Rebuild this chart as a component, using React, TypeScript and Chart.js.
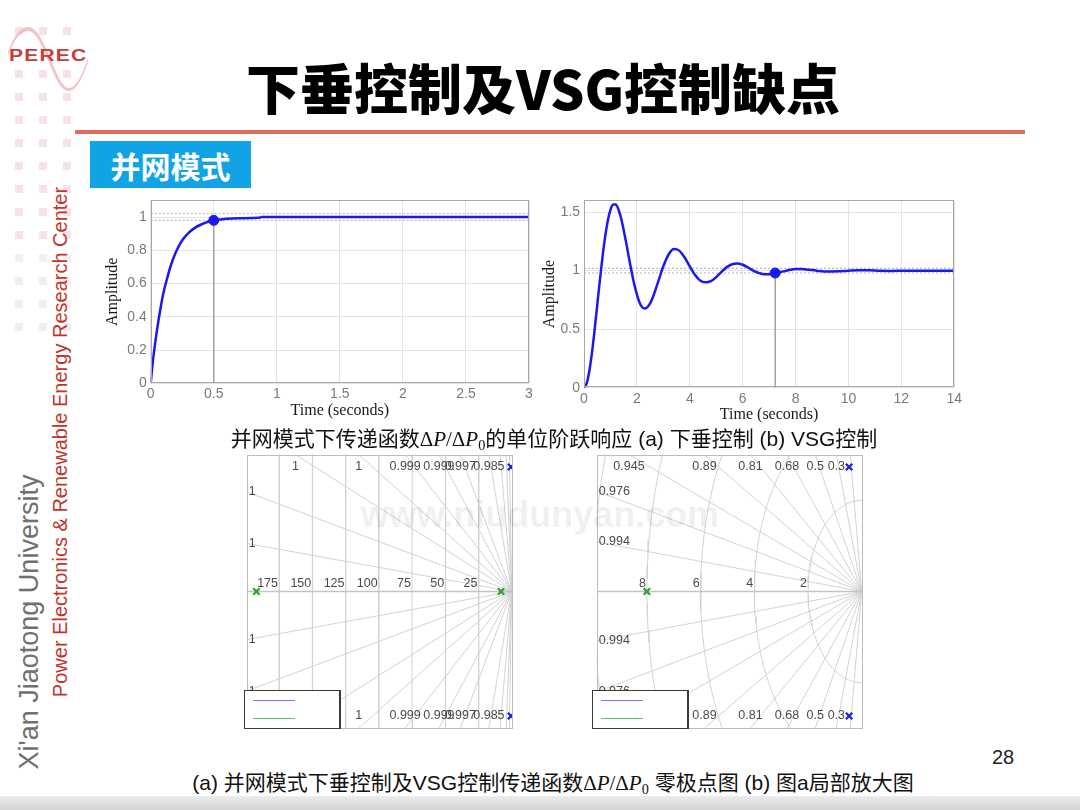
import React, { useEffect, useRef } from 'react';
import { Chart, registerables } from 'chart.js';
Chart.register(...registerables);

// ---------------- Data ----------------
// (a) droop control: unit step response of dP/dP0
const droopTime = [0, 0.02, 0.05, 0.08, 0.1, 0.13, 0.16, 0.2, 0.25, 0.3, 0.35, 0.4, 0.45, 0.5, 0.55, 0.6, 0.7, 0.86, 0.88, 1.0, 1.5, 2.0, 2.5, 3.0];
const droopAmp = [0, 0.15, 0.32, 0.46, 0.54, 0.63, 0.71, 0.79, 0.86, 0.905, 0.935, 0.955, 0.97, 0.98, 0.985, 0.99, 0.993, 0.995, 1.0, 1.0, 1.0, 1.0, 1.0, 1.0];
const droopSettleTime = 0.5;
const droopSettleAmp = 0.98;

// (b) VSG control: unit step response of dP/dP0
const vsgTime = [0, 0.1, 0.2, 0.3, 0.4, 0.5, 0.6, 0.7, 0.8, 0.9, 1.0, 1.1, 1.2, 1.3, 1.4, 1.5, 1.6, 1.7, 1.8, 1.9, 2.0, 2.1, 2.2, 2.3, 2.4, 2.5, 2.6, 2.8, 3.0, 3.2, 3.4, 3.6, 3.8, 4.0, 4.2, 4.4, 4.6, 4.8, 5.0, 5.2, 5.4, 5.6, 5.8, 6.0, 6.2, 6.4, 6.6, 6.8, 7.0, 7.2, 7.4, 7.6, 7.8, 8.0, 8.2, 8.4, 8.8, 9.2, 9.6, 10.0, 10.4, 10.8, 11.2, 11.6, 12.0, 12.5, 13.0, 14.0];
const vsgAmp = [0, 0.037, 0.14, 0.297, 0.491, 0.703, 0.917, 1.117, 1.291, 1.427, 1.519, 1.565, 1.566, 1.525, 1.45, 1.348, 1.233, 1.109, 0.99, 0.883, 0.797, 0.727, 0.687, 0.676, 0.688, 0.72, 0.77, 0.902, 1.037, 1.138, 1.184, 1.171, 1.114, 1.036, 0.962, 0.913, 0.9, 0.91, 0.945, 0.99, 1.03, 1.055, 1.062, 1.05, 1.027, 1.001, 0.981, 0.97, 0.969, 0.978, 0.986, 0.996, 1.008, 1.014, 1.014, 1.01, 1.0, 0.992, 0.994, 1.0, 1.004, 1.003, 0.998, 0.997, 0.999, 1.0, 1.0, 1.0];
const vsgSettleTime = 7.23;
const vsgSettleAmp = 0.98;

const settleBand = [0.98, 1.02];

// Pole-zero maps
const vsgPoleRe = [-0.47, -0.47];
const vsgPoleIm = [2.73, -2.73];
const droopPoleRe = [-192, -8];
const droopPoleIm = [0, 0];

const mapAFreqs = [25, 50, 75, 100, 125, 150, 175];
const mapAFreqText = ['25', '50', '75', '100', '125', '150', '175'];
const mapADamping = [0.999986, 0.99994, 0.99983, 0.99966, 0.9993, 0.9985, 0.997, 0.985, 0.945, 0.81, 0.5];
const mapADampText = ['1', '1', '1', '1', '0.999', '0.999', '0.997', '0.985', '', '', ''];

const mapBFreqs = [2, 4, 6, 8, 10];
const mapBFreqText = ['2', '4', '6', '8', '10'];
const mapBDamping = [0.14, 0.3, 0.5, 0.68, 0.81, 0.89, 0.945, 0.976, 0.994];
const mapBDampText = ['', '0.3', '0.5', '0.68', '0.81', '0.89', '0.945', '0.976', '0.994'];

// ---------------- Styles ----------------
const SANS = '"Liberation Sans", Arial, "Noto Sans CJK SC", sans-serif';
const SERIF = '"Liberation Serif", "Times New Roman", serif';
const CJK = '"Noto Sans CJK SC", "Liberation Sans", sans-serif';
const BLUE = '#1a1aee';
const GREEN = '#2aa42a';

type Pt = { x: number; y: number };
const zip = (xs: number[], ys: number[]): Pt[] => xs.map((x, i) => ({ x, y: ys[i] }));
const fmtTick = (v: any) => String(Math.round(Number(v) * 100) / 100);

const framePlugin = (color: string) => ({
  id: 'frame',
  afterDatasetsDraw(chart: any) {
    const { ctx, chartArea } = chart;
    const { left, top, right, bottom } = chartArea;
    ctx.save();
    ctx.strokeStyle = color;
    ctx.lineWidth = 1;
    ctx.strokeRect(Math.round(left) + 0.5, Math.round(top) + 0.5, Math.round(right - left) - 1, Math.round(bottom - top) - 1);
    ctx.restore();
  },
});

type StepProps = {
  left: number; top: number; width: number; height: number;
  time: number[]; amp: number[]; settleT: number; settleA: number;
  xMax: number; xStep: number; yMax: number; yStep: number;
  yAxisW: number; xAxisH: number; padTop: number; padRight: number;
  yTitlePad: number; xTitlePad: number; xTickPad: number;
};

function StepChart(p: StepProps) {
  const ref = useRef<HTMLCanvasElement>(null);
  useEffect(() => {
    const chart = new Chart(ref.current as HTMLCanvasElement, {
      type: 'scatter',
      data: {
        datasets: [
          { data: [{ x: p.settleT, y: p.settleA }], pointRadius: 5, pointBackgroundColor: BLUE, pointBorderColor: BLUE, showLine: false } as any,
          { data: zip(p.time, p.amp), showLine: true, borderColor: BLUE, borderWidth: 2.5, pointRadius: 0, cubicInterpolationMode: 'monotone' },
          { data: [{ x: 0, y: settleBand[1] }, { x: p.xMax, y: settleBand[1] }], showLine: true, borderColor: '#b0b0b0', borderWidth: 1, borderDash: [2, 2], pointRadius: 0 },
          { data: [{ x: 0, y: settleBand[0] }, { x: p.xMax, y: settleBand[0] }], showLine: true, borderColor: '#b0b0b0', borderWidth: 1, borderDash: [2, 2], pointRadius: 0 },
          { data: [{ x: p.settleT, y: 0 }, { x: p.settleT, y: p.settleA }], showLine: true, borderColor: '#a0a0a0', borderWidth: 1.5, pointRadius: 0 },
        ],
      },
      options: {
        animation: false,
        responsive: false,
        events: [],
        layout: { padding: { top: p.padTop, right: p.padRight, left: 0, bottom: 0 } },
        plugins: { legend: { display: false }, tooltip: { enabled: false } },
        scales: {
          x: {
            type: 'linear', min: 0, max: p.xMax,
            ticks: { stepSize: p.xStep, includeBounds: false, color: '#7a7a7a', font: { family: SANS, size: 14 }, padding: p.xTickPad, maxRotation: 0, callback: fmtTick },
            grid: { color: '#e4e4e4', drawTicks: false },
            border: { display: false },
            title: { display: true, text: 'Time (seconds)', color: '#1a1a1a', font: { family: SERIF, size: 16, lineHeight: 1.2 }, padding: { top: 0, bottom: p.xTitlePad } },
            afterFit: (s: any) => { s.height = p.xAxisH; },
          },
          y: {
            type: 'linear', min: 0, max: p.yMax,
            ticks: { stepSize: p.yStep, includeBounds: false, color: '#7a7a7a', font: { family: SANS, size: 14 }, padding: 4, callback: fmtTick },
            grid: { color: '#e4e4e4', drawTicks: false },
            border: { display: false },
            title: { display: true, text: 'Amplitude', color: '#1a1a1a', font: { family: SERIF, size: 16, lineHeight: 1.2 }, padding: { top: p.yTitlePad, bottom: 0 } },
            afterFit: (s: any) => { s.width = p.yAxisW; },
          },
        },
      } as any,
      plugins: [framePlugin('#a8a8a8')],
    });
    return () => chart.destroy();
  }, []);
  return (
    <canvas ref={ref} width={p.width} height={p.height}
      style={{ position: 'absolute', left: p.left, top: p.top, width: p.width, height: p.height }} />
  );
}

type PzProps = {
  left: number; top: number; width: number; height: number;
  pad: { left: number; top: number; right: number; bottom: number };
  xMin: number; xMax: number; yMax: number;
  freqs: number[]; freqText: string[]; damping: number[]; dampText: string[];
};

function PzMap(p: PzProps) {
  const ref = useRef<HTMLCanvasElement>(null);
  useEffect(() => {
    const gridColor = '#d2d2d2';
    const circles = p.freqs.map((r) => {
      const pts: Pt[] = [];
      for (let a = 90; a <= 270; a += 2) {
        const t = (a * Math.PI) / 180;
        pts.push({ x: r * Math.cos(t), y: r * Math.sin(t) });
      }
      return { data: pts, showLine: true, borderColor: gridColor, borderWidth: 1, pointRadius: 0 };
    });
    const rays: any[] = [];
    p.damping.forEach((z) => {
      const s = Math.sqrt(1 - z * z);
      const len = Math.min(-p.xMin / z, p.yMax / s);
      [1, -1].forEach((sg) => {
        rays.push({ data: [{ x: 0, y: 0 }, { x: -z * len, y: sg * s * len }], showLine: true, borderColor: gridColor, borderWidth: 1, pointRadius: 0 });
      });
    });
    const labelPlugin = {
      id: 'pzLabels',
      afterDatasetsDraw(chart: any) {
        const { ctx, chartArea, scales } = chart;
        const xs = scales.x, ys = scales.y;
        ctx.save();
        ctx.fillStyle = '#4a4a4a';
        ctx.font = `12.5px ${SANS}`;
        ctx.textAlign = 'right';
        ctx.textBaseline = 'bottom';
        p.freqs.forEach((r, i) => {
          if (-r < p.xMin) return;
          ctx.fillText(p.freqText[i], xs.getPixelForValue(-r) - 1, ys.getPixelForValue(0) - 2);
        });
        ctx.textBaseline = 'middle';
        p.damping.forEach((z, i) => {
          const txt = p.dampText[i];
          if (!txt) return;
          const s = Math.sqrt(1 - z * z);
          const xTop = (-p.yMax * z) / s;
          if (xTop >= p.xMin) {
            ctx.textAlign = 'center';
            const px = xs.getPixelForValue(xTop);
            ctx.fillText(txt, px, chartArea.top + 12);
            ctx.fillText(txt, px, chartArea.bottom - 13);
          } else {
            const yEdge = (-p.xMin * s) / z;
            ctx.textAlign = 'left';
            ctx.fillText(txt, chartArea.left + 2, ys.getPixelForValue(yEdge));
            ctx.fillText(txt, chartArea.left + 2, ys.getPixelForValue(-yEdge));
          }
        });
        ctx.restore();
      },
    };
    const chart = new Chart(ref.current as HTMLCanvasElement, {
      type: 'scatter',
      data: {
        datasets: [
          { data: zip(vsgPoleRe, vsgPoleIm), pointStyle: 'crossRot', pointRadius: 4.5, borderColor: BLUE, pointBorderColor: BLUE, pointBorderWidth: 2.2, showLine: false },
          { data: zip(droopPoleRe, droopPoleIm), pointStyle: 'crossRot', pointRadius: 4.5, borderColor: GREEN, pointBorderColor: GREEN, pointBorderWidth: 2.2, showLine: false },
          { data: [{ x: p.xMin, y: 0 }, { x: p.xMax, y: 0 }], showLine: true, borderColor: '#c4c4c4', borderWidth: 1.3, pointRadius: 0 },
          ...circles,
          ...rays,
        ] as any,
      },
      options: {
        animation: false,
        responsive: false,
        events: [],
        layout: { padding: p.pad },
        plugins: { legend: { display: false }, tooltip: { enabled: false } },
        scales: {
          x: { type: 'linear', min: p.xMin, max: p.xMax, display: false },
          y: { type: 'linear', min: -p.yMax, max: p.yMax, display: false },
        },
      } as any,
      plugins: [labelPlugin, framePlugin('#bdbdbd')],
    });
    return () => chart.destroy();
  }, []);
  return (
    <canvas ref={ref} width={p.width} height={p.height}
      style={{ position: 'absolute', left: p.left, top: p.top, width: p.width, height: p.height }} />
  );
}

function Legend({ left, top }: { left: number; top: number }) {
  return (
    <div style={{ position: 'absolute', left, top, width: 97, height: 39, background: '#fff', border: '1px solid #3a3a3a', borderRightWidth: 2, boxSizing: 'border-box' }}>
      <div style={{ position: 'absolute', left: 8, top: 9, width: 42, borderTop: '1px solid #7070ff' }} />
      <div style={{ position: 'absolute', left: 8, top: 27, width: 42, borderTop: '1px solid #60c060' }} />
    </div>
  );
}

const Formula = () => (
  <span style={{ fontFamily: SERIF }}>
    Δ<i>P</i>/Δ<i>P</i>
    <sub style={{ fontSize: '0.68em', verticalAlign: '-0.3em', lineHeight: 0 }}>0</sub>
  </span>
);

function Squares() {
  const cols = [15, 39, 63];
  const rows = [27, 70, 93, 116, 139, 162, 185, 208, 231, 254, 277, 300, 323];
  const out: any[] = [];
  rows.forEach((y, ri) => cols.forEach((x, ci) => {
    out.push(<div key={ri + '-' + ci} style={{ position: 'absolute', left: x, top: y, width: 8, height: 8, background: ri > 8 ? '#f6eeee' : '#f6e3e3' }} />);
  }));
  return <>{out}</>;
}

export default function App() {
  return (
    <div style={{ position: 'fixed', left: 0, top: 0, width: 1080, height: 810, background: '#fff', overflow: 'hidden', fontFamily: SANS }}>
      <Squares />
      {/* logo */}
      <svg style={{ position: 'absolute', left: 0, top: 0 }} width={100} height={100}>
        <path d="M8 52 C 14 36, 20 27, 28 27 C 38 27, 44 45, 50 57 C 56 72, 62 88, 69 88 C 77 88, 83 72, 88 58 L 88 62 C 83 76, 77 91, 69 91 C 60 91, 54 74, 48 60 C 42 46, 36 31, 28 31 C 20 31, 14 40, 8 56 Z" fill="#f2b9b9" opacity={0.85} />
      </svg>
      <div style={{ position: 'absolute', left: 9, top: 46, fontFamily: SANS, fontWeight: 700, fontSize: 21, letterSpacing: 1.2, color: '#cc3b3b', transform: 'scaleY(0.8)', transformOrigin: 'left top' }}>PEREC</div>

      {/* title */}
      <div style={{ position: 'absolute', left: 543, top: 86, transform: 'translate(-50%,-50%)', whiteSpace: 'nowrap', fontFamily: CJK, fontWeight: 900, fontSize: 54, letterSpacing: 0, color: '#000' }}>下垂控制及VSG控制缺点</div>
      <div style={{ position: 'absolute', left: 75, top: 130, width: 950, height: 4, background: '#e06c5e' }} />

      <div style={{ position: 'absolute', left: 90, top: 141, width: 161, height: 47, background: '#11a3e6', color: '#fff', fontFamily: CJK, fontWeight: 700, fontSize: 30, display: 'flex', alignItems: 'center', justifyContent: 'center' }}>并网模式</div>

      {/* side texts */}
      <div style={{ position: 'absolute', left: 29, top: 622, transform: 'translate(-50%,-50%) rotate(-90deg)', whiteSpace: 'nowrap', fontFamily: SANS, fontSize: 27, color: '#707070' }}>Xi'an Jiaotong University</div>
      <div style={{ position: 'absolute', left: 60, top: 442, transform: 'translate(-50%,-50%) rotate(-90deg)', whiteSpace: 'nowrap', fontFamily: SANS, fontSize: 20, color: '#c2352c' }}>Power Electronics &amp; Renewable Energy Research Center</div>

      {/* step responses */}
      <StepChart left={100} top={188} width={442} height={237}
        time={droopTime} amp={droopAmp} settleT={droopSettleTime} settleA={droopSettleAmp}
        xMax={3} xStep={0.5} yMax={1.1} yStep={0.2}
        yAxisW={50.7} xAxisH={41.7} padTop={7} padRight={13} yTitlePad={3.4} xTitlePad={4.4} xTickPad={2} />
      <StepChart left={540} top={188} width={425} height={237}
        time={vsgTime} amp={vsgAmp} settleT={vsgSettleTime} settleA={vsgSettleAmp}
        xMax={14} xStep={2} yMax={1.6} yStep={0.5}
        yAxisW={44} xAxisH={37.3} padTop={7} padRight={10.7} yTitlePad={0} xTitlePad={1} xTickPad={3} />

      <div style={{ position: 'absolute', left: 554, top: 437, transform: 'translate(-50%,-50%)', whiteSpace: 'nowrap', fontSize: 21, color: '#111', fontFamily: SANS }}>
        并网模式下传递函数<Formula />的单位阶跃响应 (a) 下垂控制 (b) VSG控制
      </div>

      {/* pole-zero maps */}
      <PzMap left={240} top={448} width={280} height={287}
        pad={{ left: 3.3, top: 4, right: 7, bottom: 5.5 }}
        xMin={-199.3} xMax={1} yMax={3}
        freqs={mapAFreqs} freqText={mapAFreqText} damping={mapADamping} dampText={mapADampText} />
      <PzMap left={590} top={448} width={280} height={287}
        pad={{ left: 3, top: 4, right: 7.5, bottom: 5.5 }}
        xMin={-9.87} xMax={0.03} yMax={3}
        freqs={mapBFreqs} freqText={mapBFreqText} damping={mapBDamping} dampText={mapBDampText} />
      <Legend left={244} top={690} />
      <Legend left={592} top={690} />

      <div style={{ position: 'absolute', left: 540, top: 515, transform: 'translate(-50%,-50%)', whiteSpace: 'nowrap', fontFamily: SANS, fontWeight: 700, fontSize: 36, color: 'rgba(0,0,0,0.06)', pointerEvents: 'none' }}>www.niudunyan.com</div>

      <div style={{ position: 'absolute', left: 1003, top: 757, transform: 'translate(-50%,-50%)', fontSize: 20, color: '#222', fontFamily: SANS }}>28</div>

      <div style={{ position: 'absolute', left: 553, top: 781, transform: 'translate(-50%,-50%)', whiteSpace: 'nowrap', fontSize: 21, color: '#111', fontFamily: SANS }}>
        (a) 并网模式下垂控制及VSG控制传递函数<Formula /> 零极点图 (b) 图a局部放大图
      </div>

      <div style={{ position: 'absolute', left: 0, top: 796, width: 1080, height: 14, background: 'linear-gradient(#ececec, #d4d4d4)' }} />
    </div>
  );
}
